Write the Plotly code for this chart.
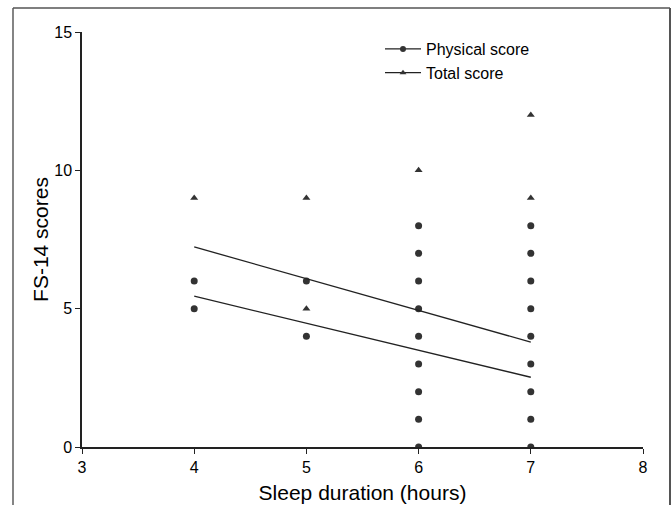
import numpy as np
import plotly.graph_objects as go

# Data
phys_x = [4, 4, 5, 5, 6, 6, 6, 6, 6, 6, 6, 6, 6, 7, 7, 7, 7, 7, 7, 7, 7, 7]
phys_y = [5, 6, 4, 6, 0, 1, 2, 3, 4, 5, 6, 7, 8, 0, 1, 2, 3, 4, 5, 6, 7, 8]
total_x = [4, 5, 5, 6, 7, 7]
total_y = [9, 9, 5, 10, 9, 12]

# Regression fits (slope, intercept)
phys_fit = (-0.977, 9.36)
total_fit = (-1.147, 11.82)
fit_x = [4, 7]

x_ticks = [3, 4, 5, 6, 7, 8]
y_ticks = [0, 5, 10, 15]

mk_color = "#333333"
font = "Liberation Sans, Arial, sans-serif"

fig = go.Figure()
fig.add_trace(go.Scatter(x=phys_x, y=phys_y, mode="markers", showlegend=False,
                         marker=dict(symbol="circle", size=7, color=mk_color)))
fig.add_trace(go.Scatter(x=total_x, y=total_y, mode="markers", showlegend=False,
                         marker=dict(symbol="triangle-up", size=7, color=mk_color)))
for (m, b) in [total_fit, phys_fit]:
    fx = np.array(fit_x, dtype=float)
    fig.add_trace(go.Scatter(x=fx, y=m * fx + b, mode="lines", showlegend=False,
                             line=dict(color="#222222", width=1.3)))
# legend-only entries
fig.add_trace(go.Scatter(x=[None], y=[None], mode="lines+markers", name="Physical score",
                         line=dict(color="#222222", width=1.3),
                         marker=dict(symbol="circle", size=6, color=mk_color)))
fig.add_trace(go.Scatter(x=[None], y=[None], mode="lines+markers", name="Total score",
                         line=dict(color="#222222", width=1.3),
                         marker=dict(symbol="triangle-up", size=6, color=mk_color)))

L, R, T, B = 82, 29, 32, 58
W, H = 672, 505
pw, ph = W - L - R, H - T - B

def px2x(p):
    return (p - L) / pw

def py2y(p):
    return 1 - (p - T) / ph

frame_col = "#555555"
shapes = [
    dict(type="line", xref="paper", yref="paper", x0=px2x(13), x1=px2x(13), y0=py2y(8), y1=py2y(520),
         line=dict(color="#333333", width=1.2)),
    dict(type="line", xref="paper", yref="paper", x0=px2x(13), x1=px2x(670), y0=py2y(8), y1=py2y(8),
         line=dict(color=frame_col, width=1.5)),
    dict(type="line", xref="paper", yref="paper", x0=px2x(670), x1=px2x(670), y0=py2y(8), y1=py2y(520),
         line=dict(color=frame_col, width=2)),
]

fig.update_layout(
    width=W, height=H,
    margin=dict(l=L, r=R, t=T, b=B, autoexpand=False),
    paper_bgcolor="white", plot_bgcolor="white",
    font=dict(family=font, size=16, color="black"),
    shapes=shapes,
    showlegend=True,
    legend=dict(x=px2x(380), y=py2y(32), xanchor="left", yanchor="top",
                bgcolor="rgba(0,0,0,0)", font=dict(size=16, family=font),
                itemwidth=36, tracegroupgap=0),
    xaxis=dict(range=[3, 8], tickvals=x_ticks, ticktext=[str(v) for v in x_ticks],
               showgrid=False, zeroline=False, showline=True, linecolor="#222222", linewidth=1.5,
               ticks="outside", ticklen=5, tickcolor="#222222", tickwidth=1.2,
               tickfont=dict(size=16), automargin=False,
               title=dict(text="Sleep duration (hours)", font=dict(size=21, family=font), standoff=10)),
    yaxis=dict(range=[0, 15], tickvals=y_ticks, ticktext=[str(v) for v in y_ticks],
               showgrid=False, zeroline=False, showline=True, linecolor="#222222", linewidth=1.5,
               ticks="outside", ticklen=5, tickcolor="#222222", tickwidth=1.2,
               tickfont=dict(size=16), automargin=False,
               title=dict(text="FS-14 scores", font=dict(size=21, family=font), standoff=0)),
)
fig.write_html("out.html", config={"displayModeBar": False},
               post_script="document.body.style.margin='0';document.body.style.overflow='hidden';")
